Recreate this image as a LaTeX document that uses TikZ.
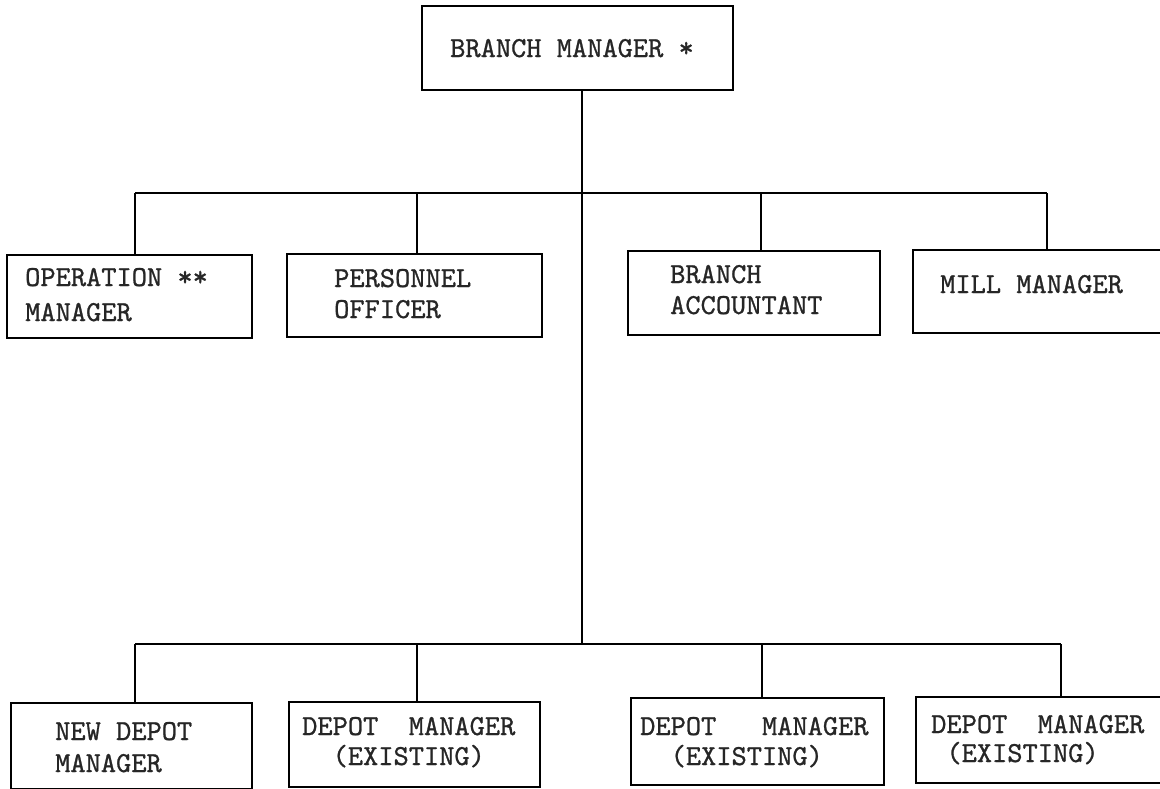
\documentclass[tikz,border=0pt]{standalone}
\usepackage{fontspec}
\newfontfamily\tw[FakeBold=0.9]{lmmono10-regular.otf}
\begin{document}
\begin{tikzpicture}[x=1pt,y=-1pt,
  box/.style={draw, line width=1.4pt, inner sep=0pt},
  txt/.style={anchor=base west, inner sep=0pt, text=black!85, font=\tw\fontsize{29}{32}\selectfont},
  link/.style={line width=1.6pt}]
\clip (0,0) rectangle (1160,788);
\fill[white] (0,0) rectangle (1160,788);
% boxes
\node[box, minimum width=311pt, minimum height=84pt] (bm) at (577.5,48) {};
\node[box, minimum width=245pt, minimum height=83pt] (op) at (129.5,296.5) {};
\node[box, minimum width=255pt, minimum height=83pt] (pe) at (414.5,295.5) {};
\node[box, minimum width=252pt, minimum height=84pt] (ba) at (754,293) {};
\node[box, minimum width=262pt, minimum height=83pt] (mm) at (1044,291.5) {};
\node[box, minimum width=241pt, minimum height=86pt] (nd) at (131.5,746) {};
\node[box, minimum width=251pt, minimum height=85pt] (dA) at (414.5,744.5) {};
\node[box, minimum width=253pt, minimum height=87pt] (dB) at (757.5,741.5) {};
\node[box, minimum width=264pt, minimum height=86pt] (dC) at (1048,740) {};
% texts
\node[txt] (tbm) at (450,57) {BRANCH MANAGER *};
\node[txt] (top1) at (25,286) {OPERATION **};
\node[txt] (top2) at (25,321) {MANAGER};
\node[txt] (tpe1) at (334,287) {PERSONNEL};
\node[txt] (tpe2) at (334,318) {OFFICER};
\node[txt] (tba1) at (670,283) {BRANCH};
\node[txt] (tba2) at (670,314) {ACCOUNTANT};
\node[txt] (tmm) at (940,293) {MILL MANAGER};
\node[txt] (tnd1) at (55,740) {NEW DEPOT};
\node[txt] (tnd2) at (55,772) {MANAGER};
\node[txt] (tdA1) at (302,735) {DEPOT~~MANAGER};
\node[txt] (tdA2) at (302,765) {~~(EXISTING)};
\node[txt] (tdB1) at (640,735) {DEPOT~~~MANAGER};
\node[txt] (tdB2) at (640,765) {~~(EXISTING)};
\node[txt] (tdC1) at (931,733) {DEPOT~~MANAGER};
\node[txt] (tdC2) at (931,762) {~(EXISTING)};
% bus coordinates
\coordinate (u1) at (135,193);
\coordinate (u2) at (417,193);
\coordinate (u3) at (761,193);
\coordinate (u4) at (1047,193);
\coordinate (l1) at (135,644);
\coordinate (l2) at (417,644);
\coordinate (l3) at (762,644);
\coordinate (l4) at (1061,644);
\coordinate (lm) at (582,644);
% connectors
\draw[link] ([xshift=4.5pt]bm.south) -- (lm);
\draw[link] (u1) -- (u4);
\draw[link] (l1) -- (l4);
\draw[link] (u1) -- (u1 |- op.north);
\draw[link] (u2) -- (u2 |- pe.north);
\draw[link] (u3) -- (u3 |- ba.north);
\draw[link] (u4) -- (u4 |- mm.north);
\draw[link] (l1) -- (l1 |- nd.north);
\draw[link] (l2) -- (l2 |- dA.north);
\draw[link] (l3) -- (l3 |- dB.north);
\draw[link] (l4) -- (l4 |- dC.north);
\end{tikzpicture}
\end{document}
